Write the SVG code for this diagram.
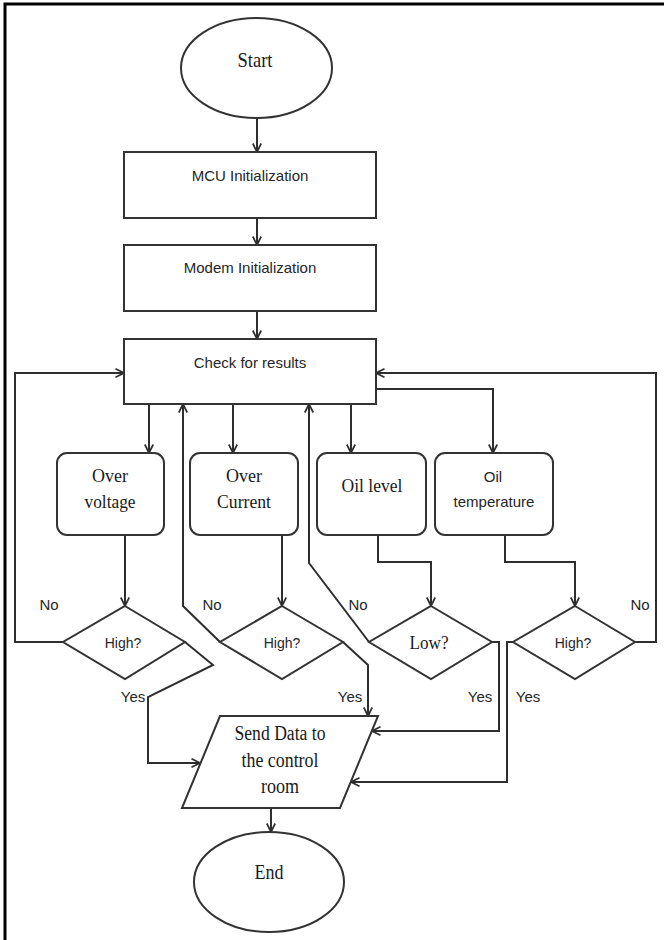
<svg xmlns="http://www.w3.org/2000/svg" width="664" height="940" viewBox="0 0 664 940">
<style>
.bg{fill:#ffffff}
.frame{stroke:#000;stroke-width:3;fill:none}
.shape{fill:#fff;stroke:#333;stroke-width:2}
.conn path{fill:none;stroke:#2e2e2e;stroke-width:2}
.sans{font-family:"Liberation Sans",Arial,sans-serif;fill:#262626;text-anchor:middle}
.serif{font-family:"Liberation Serif","Times New Roman",serif;fill:#1a1a1a;text-anchor:middle}
</style>
<defs>
<marker id="arr" viewBox="0 0 10 10" refX="9.5" refY="5" markerWidth="10" markerHeight="10" markerUnits="userSpaceOnUse" orient="auto">
<path d="M1,0.8 L9.5,5 L1,9.2" fill="none" stroke="#2e2e2e" stroke-width="1.7"/>
</marker>
</defs>
<rect class="bg" x="0" y="0" width="664" height="940"/>
<path class="frame" d="M5,940 V4 H664"/>

<g class="conn" id="connectors">
<path d="M257,118 V152" marker-end="url(#arr)"/>
<path d="M257,218 V245" marker-end="url(#arr)"/>
<path d="M257,311 V339" marker-end="url(#arr)"/>
<path d="M149,404 V453" marker-end="url(#arr)"/>
<path d="M233,404 V453" marker-end="url(#arr)"/>
<path d="M351,404 V453" marker-end="url(#arr)"/>
<path d="M376,389 H493 V453" marker-end="url(#arr)"/>
<path d="M125,535 V606" marker-end="url(#arr)"/>
<path d="M282,535 V606" marker-end="url(#arr)"/>
<path d="M378,535 V562 H431 V606" marker-end="url(#arr)"/>
<path d="M505,535 V562 H575 V606" marker-end="url(#arr)"/>
<path d="M63,642 H15 V373 H124" marker-end="url(#arr)"/>
<path d="M220,642 L183,606 V404" marker-end="url(#arr)"/>
<path d="M369,642 L309,563 V404" marker-end="url(#arr)"/>
<path d="M635,642 H656 V373 H376" marker-end="url(#arr)"/>
<path d="M185,642 L213,665 L148,697 V763 H200" marker-end="url(#arr)"/>
<path d="M343,642 L368,665 V716" marker-end="url(#arr)"/>
<path d="M492,642 H499 V731 H372" marker-end="url(#arr)"/>
<path d="M513,642 H507 V782 H351" marker-end="url(#arr)"/>
<path d="M271,808 V832" marker-end="url(#arr)"/>
</g>

<g id="start">
<ellipse class="shape" cx="256.5" cy="68" rx="75.5" ry="50"/>
<text class="serif" x="255" y="67" font-size="21" textLength="35" lengthAdjust="spacingAndGlyphs">Start</text>
</g>
<g id="mcu">
<rect class="shape" x="124" y="152" width="252" height="66"/>
<text class="sans" x="250" y="181" font-size="15">MCU Initialization</text>
</g>
<g id="modem">
<rect class="shape" x="124" y="245" width="252" height="66"/>
<text class="sans" x="250" y="273" font-size="15">Modem Initialization</text>
</g>
<g id="check">
<rect class="shape" x="124" y="339" width="252" height="65"/>
<text class="sans" x="250" y="368" font-size="15">Check for results</text>
</g>
<g id="overvoltage">
<rect class="shape" x="57" y="453" width="107" height="82" rx="10"/>
<text class="serif" x="110" y="482" font-size="19" textLength="36" lengthAdjust="spacingAndGlyphs">Over</text>
<text class="serif" x="110" y="508" font-size="19" textLength="51" lengthAdjust="spacingAndGlyphs">voltage</text>
</g>
<g id="overcurrent">
<rect class="shape" x="190" y="453" width="108" height="82" rx="10"/>
<text class="serif" x="244" y="482" font-size="19" textLength="36" lengthAdjust="spacingAndGlyphs">Over</text>
<text class="serif" x="244" y="508" font-size="19" textLength="54" lengthAdjust="spacingAndGlyphs">Current</text>
</g>
<g id="oillevel">
<rect class="shape" x="317" y="453" width="109" height="82" rx="10"/>
<text class="serif" x="372" y="492" font-size="19" textLength="61" lengthAdjust="spacingAndGlyphs">Oil level</text>
</g>
<g id="oiltemp">
<rect class="shape" x="435" y="453" width="118" height="82" rx="10"/>
<text class="sans" x="493" y="482" font-size="15">Oil</text>
<text class="sans" x="494" y="507" font-size="15">temperature</text>
</g>
<g id="d1">
<polygon class="shape" points="125,606 185,642 125,679 63,642"/>
<text class="sans" x="123" y="648" font-size="14">High?</text>
</g>
<g id="d2">
<polygon class="shape" points="282,606 343,642 282,679 220,642"/>
<text class="sans" x="282" y="648" font-size="14">High?</text>
</g>
<g id="d3">
<polygon class="shape" points="431,606 492,642 431,679 369,642"/>
<text class="serif" x="429" y="649" font-size="18" textLength="39" lengthAdjust="spacingAndGlyphs">Low?</text>
</g>
<g id="d4">
<polygon class="shape" points="575,606 635,642 575,679 513,642"/>
<text class="sans" x="573" y="648" font-size="14">High?</text>
</g>
<g id="labels">
<text class="sans" x="49" y="610" font-size="15">No</text>
<text class="sans" x="212" y="610" font-size="15">No</text>
<text class="sans" x="358" y="610" font-size="15">No</text>
<text class="sans" x="640" y="610" font-size="15">No</text>
<text class="sans" x="133" y="702" font-size="15">Yes</text>
<text class="sans" x="350" y="702" font-size="15">Yes</text>
<text class="sans" x="480" y="702" font-size="15">Yes</text>
<text class="sans" x="528" y="702" font-size="15">Yes</text>
</g>
<g id="send">
<polygon class="shape" points="220,716 378,716 340,808 182,808"/>
<text class="serif" x="280" y="740" font-size="20" textLength="91" lengthAdjust="spacingAndGlyphs">Send Data to</text>
<text class="serif" x="280" y="767" font-size="20" textLength="77" lengthAdjust="spacingAndGlyphs">the control</text>
<text class="serif" x="280" y="793" font-size="20" textLength="38" lengthAdjust="spacingAndGlyphs">room</text>
</g>
<g id="end">
<ellipse class="shape" cx="269" cy="882" rx="75" ry="50"/>
<text class="serif" x="269" y="879" font-size="21" textLength="29" lengthAdjust="spacingAndGlyphs">End</text>
</g>
</svg>
